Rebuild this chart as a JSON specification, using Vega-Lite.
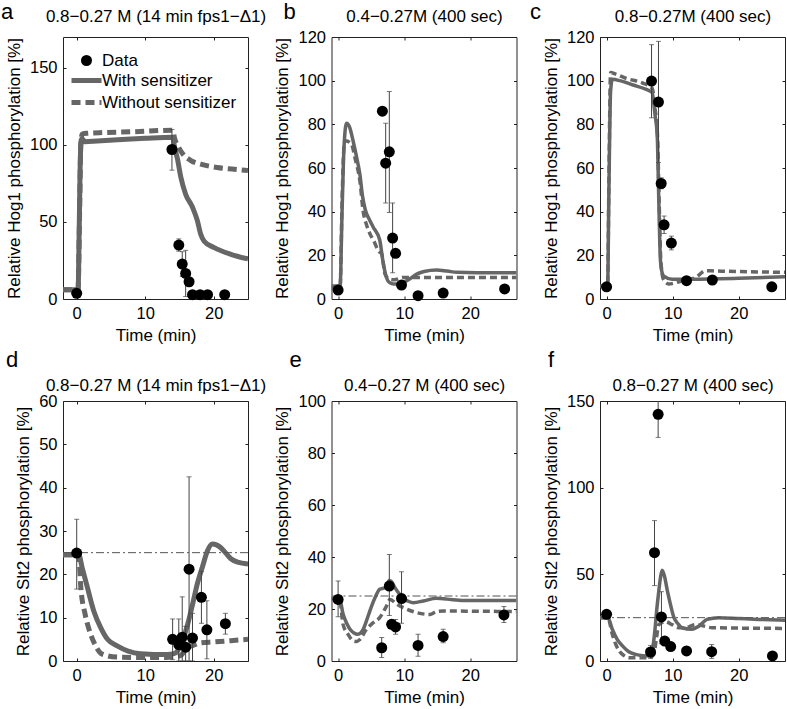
{
  "$schema": "https://vega.github.io/schema/vega-lite/v6.json",
  "padding": {"left": 0, "top": 0, "right": 0, "bottom": 0},
  "background": "white",
  "config": {
    "view": {"stroke": "#222", "strokeWidth": 1},
    "font": "Liberation Sans",
    "axis": {"domain": false, "grid": false, "tickSize": -3, "tickColor": "#222", "tickWidth": 1, "labelFont": "Liberation Sans", "labelFontSize": 16.5, "labelColor": "black", "labelPadding": 9, "labelFlush": false, "titleFont": "Liberation Sans", "titleFontSize": 17, "titleFontWeight": "normal", "titleColor": "black", "titlePadding": 6, "titleLimit": 500, "minExtent": 0},
    "title": {"font": "Liberation Sans", "fontSize": 22, "fontWeight": "normal", "color": "black", "frame": "group", "anchor": "start", "baseline": "alphabetic", "offset": 0}
  },
  "datasets": {
    "L": [
      {"p":"a","s":"With sensitizer","t":-2,"v":6},{"p":"a","s":"With sensitizer","t":0.2,"v":6},{"p":"a","s":"With sensitizer","t":0.35,"v":40},{"p":"a","s":"With sensitizer","t":0.5,"v":85},{"p":"a","s":"With sensitizer","t":0.65,"v":103},{"p":"a","s":"With sensitizer","t":0.8,"v":104},{"p":"a","s":"With sensitizer","t":1.2,"v":102},{"p":"a","s":"With sensitizer","t":3,"v":102.5},{"p":"a","s":"With sensitizer","t":6,"v":103.3},{"p":"a","s":"With sensitizer","t":10,"v":104.3},{"p":"a","s":"With sensitizer","t":14,"v":105},{"p":"a","s":"With sensitizer","t":14.3,"v":98},{"p":"a","s":"With sensitizer","t":14.7,"v":91},{"p":"a","s":"With sensitizer","t":15.2,"v":79},{"p":"a","s":"With sensitizer","t":15.9,"v":68},{"p":"a","s":"With sensitizer","t":16.9,"v":59.5},{"p":"a","s":"With sensitizer","t":17.6,"v":51},{"p":"a","s":"With sensitizer","t":18.1,"v":42},{"p":"a","s":"With sensitizer","t":18.6,"v":37.5},{"p":"a","s":"With sensitizer","t":20,"v":33.5},{"p":"a","s":"With sensitizer","t":22.5,"v":29},{"p":"a","s":"With sensitizer","t":25,"v":26},
      {"p":"a","s":"Without sensitizer","t":-2,"v":6},{"p":"a","s":"Without sensitizer","t":0.2,"v":6},{"p":"a","s":"Without sensitizer","t":0.4,"v":50},{"p":"a","s":"Without sensitizer","t":0.6,"v":100},{"p":"a","s":"Without sensitizer","t":0.8,"v":107},{"p":"a","s":"Without sensitizer","t":1.5,"v":107.5},{"p":"a","s":"Without sensitizer","t":4,"v":108},{"p":"a","s":"Without sensitizer","t":8,"v":108.5},{"p":"a","s":"Without sensitizer","t":14,"v":109.5},{"p":"a","s":"Without sensitizer","t":14.3,"v":104},{"p":"a","s":"Without sensitizer","t":14.8,"v":99},{"p":"a","s":"Without sensitizer","t":15.5,"v":94},{"p":"a","s":"Without sensitizer","t":16.6,"v":90},{"p":"a","s":"Without sensitizer","t":18.1,"v":87.5},{"p":"a","s":"Without sensitizer","t":20.5,"v":85.3},{"p":"a","s":"Without sensitizer","t":23,"v":84.2},{"p":"a","s":"Without sensitizer","t":25,"v":83.3},
      {"p":"b","s":"With sensitizer","t":-1,"v":6},{"p":"b","s":"With sensitizer","t":0.3,"v":6},{"p":"b","s":"With sensitizer","t":0.6,"v":40},{"p":"b","s":"With sensitizer","t":0.9,"v":70},{"p":"b","s":"With sensitizer","t":1.27,"v":80.5},{"p":"b","s":"With sensitizer","t":1.7,"v":79},{"p":"b","s":"With sensitizer","t":2.3,"v":72},{"p":"b","s":"With sensitizer","t":2.8,"v":65},{"p":"b","s":"With sensitizer","t":3.3,"v":57},{"p":"b","s":"With sensitizer","t":3.7,"v":47},{"p":"b","s":"With sensitizer","t":4.1,"v":41},{"p":"b","s":"With sensitizer","t":4.8,"v":36},{"p":"b","s":"With sensitizer","t":5.3,"v":33},{"p":"b","s":"With sensitizer","t":6.3,"v":27},{"p":"b","s":"With sensitizer","t":6.8,"v":17},{"p":"b","s":"With sensitizer","t":7.3,"v":10},{"p":"b","s":"With sensitizer","t":7.8,"v":7.5},{"p":"b","s":"With sensitizer","t":8.4,"v":6.9},{"p":"b","s":"With sensitizer","t":9.2,"v":7},{"p":"b","s":"With sensitizer","t":9.9,"v":7.6},{"p":"b","s":"With sensitizer","t":11,"v":9.5},{"p":"b","s":"With sensitizer","t":11.9,"v":11.4},{"p":"b","s":"With sensitizer","t":13,"v":12.6},{"p":"b","s":"With sensitizer","t":14.9,"v":13.3},{"p":"b","s":"With sensitizer","t":16.5,"v":12.8},{"p":"b","s":"With sensitizer","t":18,"v":12.2},{"p":"b","s":"With sensitizer","t":21,"v":12},{"p":"b","s":"With sensitizer","t":27,"v":12},
      {"p":"b","s":"Without sensitizer","t":-1,"v":5},{"p":"b","s":"Without sensitizer","t":0.3,"v":5},{"p":"b","s":"Without sensitizer","t":0.6,"v":45},{"p":"b","s":"Without sensitizer","t":0.9,"v":70},{"p":"b","s":"Without sensitizer","t":1.1,"v":72.5},{"p":"b","s":"Without sensitizer","t":2,"v":71},{"p":"b","s":"Without sensitizer","t":2.6,"v":64},{"p":"b","s":"Without sensitizer","t":3.3,"v":54},{"p":"b","s":"Without sensitizer","t":3.8,"v":40},{"p":"b","s":"Without sensitizer","t":4.3,"v":34},{"p":"b","s":"Without sensitizer","t":4.8,"v":30},{"p":"b","s":"Without sensitizer","t":5.5,"v":26},{"p":"b","s":"Without sensitizer","t":6.1,"v":22},{"p":"b","s":"Without sensitizer","t":6.6,"v":20.6},{"p":"b","s":"Without sensitizer","t":7.1,"v":11.4},{"p":"b","s":"Without sensitizer","t":7.8,"v":9.1},{"p":"b","s":"Without sensitizer","t":8.5,"v":8.8},{"p":"b","s":"Without sensitizer","t":9.9,"v":9.9},{"p":"b","s":"Without sensitizer","t":12,"v":9.8},{"p":"b","s":"Without sensitizer","t":27,"v":9.8},
      {"p":"c","s":"With sensitizer","t":-1,"v":6},{"p":"c","s":"With sensitizer","t":0.15,"v":6},{"p":"c","s":"With sensitizer","t":0.35,"v":50},{"p":"c","s":"With sensitizer","t":0.6,"v":95},{"p":"c","s":"With sensitizer","t":0.86,"v":100.6},{"p":"c","s":"With sensitizer","t":2,"v":100},{"p":"c","s":"With sensitizer","t":4,"v":98},{"p":"c","s":"With sensitizer","t":6,"v":96},{"p":"c","s":"With sensitizer","t":6.9,"v":94.5},{"p":"c","s":"With sensitizer","t":7.3,"v":85},{"p":"c","s":"With sensitizer","t":7.66,"v":75},{"p":"c","s":"With sensitizer","t":7.9,"v":45},{"p":"c","s":"With sensitizer","t":8.15,"v":17.5},{"p":"c","s":"With sensitizer","t":8.4,"v":12},{"p":"c","s":"With sensitizer","t":8.65,"v":10.5},{"p":"c","s":"With sensitizer","t":9.9,"v":9.1},{"p":"c","s":"With sensitizer","t":12.9,"v":9.1},{"p":"c","s":"With sensitizer","t":20,"v":9.5},{"p":"c","s":"With sensitizer","t":27,"v":10.2},
      {"p":"c","s":"Without sensitizer","t":-1,"v":6},{"p":"c","s":"Without sensitizer","t":0.15,"v":6},{"p":"c","s":"Without sensitizer","t":0.35,"v":55},{"p":"c","s":"Without sensitizer","t":0.6,"v":103.7},{"p":"c","s":"Without sensitizer","t":1.4,"v":103},{"p":"c","s":"Without sensitizer","t":3,"v":101},{"p":"c","s":"Without sensitizer","t":5.4,"v":99},{"p":"c","s":"Without sensitizer","t":6.9,"v":96.5},{"p":"c","s":"Without sensitizer","t":7.3,"v":88},{"p":"c","s":"Without sensitizer","t":7.7,"v":75},{"p":"c","s":"Without sensitizer","t":7.95,"v":45},{"p":"c","s":"Without sensitizer","t":8.2,"v":18},{"p":"c","s":"Without sensitizer","t":8.6,"v":9},{"p":"c","s":"Without sensitizer","t":9.4,"v":6.9},{"p":"c","s":"Without sensitizer","t":10.5,"v":7.5},{"p":"c","s":"Without sensitizer","t":11.5,"v":8.4},{"p":"c","s":"Without sensitizer","t":13.5,"v":9.9},{"p":"c","s":"Without sensitizer","t":15,"v":13},{"p":"c","s":"Without sensitizer","t":16.5,"v":12.8},{"p":"c","s":"Without sensitizer","t":18,"v":12.7},{"p":"c","s":"Without sensitizer","t":27,"v":12.2},
      {"p":"d","s":"With sensitizer","t":-2,"v":24.5},{"p":"d","s":"With sensitizer","t":0.3,"v":24.5},{"p":"d","s":"With sensitizer","t":0.8,"v":21.5},{"p":"d","s":"With sensitizer","t":1.56,"v":17},{"p":"d","s":"With sensitizer","t":2.5,"v":11.5},{"p":"d","s":"With sensitizer","t":3.5,"v":7.7},{"p":"d","s":"With sensitizer","t":4.5,"v":5},{"p":"d","s":"With sensitizer","t":5.9,"v":3.5},{"p":"d","s":"With sensitizer","t":7.5,"v":2.3},{"p":"d","s":"With sensitizer","t":9.3,"v":1.7},{"p":"d","s":"With sensitizer","t":13.2,"v":1.5},{"p":"d","s":"With sensitizer","t":14.2,"v":1.7},{"p":"d","s":"With sensitizer","t":14.7,"v":2.3},{"p":"d","s":"With sensitizer","t":15.5,"v":5},{"p":"d","s":"With sensitizer","t":16.2,"v":8.5},{"p":"d","s":"With sensitizer","t":16.9,"v":13},{"p":"d","s":"With sensitizer","t":17.6,"v":17.8},{"p":"d","s":"With sensitizer","t":18.4,"v":22},{"p":"d","s":"With sensitizer","t":19.1,"v":25.5},{"p":"d","s":"With sensitizer","t":19.8,"v":27},{"p":"d","s":"With sensitizer","t":20.4,"v":26.8},{"p":"d","s":"With sensitizer","t":21,"v":26.2},{"p":"d","s":"With sensitizer","t":21.7,"v":25},{"p":"d","s":"With sensitizer","t":22.5,"v":23.6},{"p":"d","s":"With sensitizer","t":23.5,"v":22.8},{"p":"d","s":"With sensitizer","t":25,"v":22.4},
      {"p":"d","s":"Without sensitizer","t":-2,"v":24.5},{"p":"d","s":"Without sensitizer","t":0.3,"v":24.5},{"p":"d","s":"Without sensitizer","t":0.6,"v":17},{"p":"d","s":"Without sensitizer","t":1.2,"v":11},{"p":"d","s":"Without sensitizer","t":1.8,"v":7.3},{"p":"d","s":"Without sensitizer","t":2.6,"v":4},{"p":"d","s":"Without sensitizer","t":3.5,"v":1.8},{"p":"d","s":"Without sensitizer","t":4.5,"v":1.2},{"p":"d","s":"Without sensitizer","t":5.9,"v":0.9},{"p":"d","s":"Without sensitizer","t":9,"v":0.8},{"p":"d","s":"Without sensitizer","t":13,"v":0.8},{"p":"d","s":"Without sensitizer","t":14.5,"v":1},{"p":"d","s":"Without sensitizer","t":15.2,"v":1.3},{"p":"d","s":"Without sensitizer","t":15.7,"v":2.2},{"p":"d","s":"Without sensitizer","t":16.2,"v":3.1},{"p":"d","s":"Without sensitizer","t":17,"v":3.6},{"p":"d","s":"Without sensitizer","t":18.1,"v":4.2},{"p":"d","s":"Without sensitizer","t":20,"v":4.4},{"p":"d","s":"Without sensitizer","t":22.5,"v":4.7},{"p":"d","s":"Without sensitizer","t":25,"v":5},
      {"p":"e","s":"With sensitizer","t":-1,"v":24},{"p":"e","s":"With sensitizer","t":0.2,"v":24},{"p":"e","s":"With sensitizer","t":0.76,"v":18},{"p":"e","s":"With sensitizer","t":1.3,"v":14.5},{"p":"e","s":"With sensitizer","t":1.8,"v":12.2},{"p":"e","s":"With sensitizer","t":2.4,"v":10.8},{"p":"e","s":"With sensitizer","t":3,"v":10.3},{"p":"e","s":"With sensitizer","t":3.4,"v":10.8},{"p":"e","s":"With sensitizer","t":3.8,"v":12.2},{"p":"e","s":"With sensitizer","t":4.3,"v":15.5},{"p":"e","s":"With sensitizer","t":4.8,"v":19.2},{"p":"e","s":"With sensitizer","t":5.6,"v":24.4},{"p":"e","s":"With sensitizer","t":6.3,"v":27.6},{"p":"e","s":"With sensitizer","t":7.1,"v":28.2},{"p":"e","s":"With sensitizer","t":7.75,"v":31},{"p":"e","s":"With sensitizer","t":8.1,"v":30.5},{"p":"e","s":"With sensitizer","t":8.6,"v":28.2},{"p":"e","s":"With sensitizer","t":9.2,"v":26},{"p":"e","s":"With sensitizer","t":9.9,"v":24},{"p":"e","s":"With sensitizer","t":10.6,"v":23},{"p":"e","s":"With sensitizer","t":11.4,"v":22.4},{"p":"e","s":"With sensitizer","t":12.9,"v":23.1},{"p":"e","s":"With sensitizer","t":14.9,"v":24.1},{"p":"e","s":"With sensitizer","t":16.5,"v":23.8},{"p":"e","s":"With sensitizer","t":19,"v":23.3},{"p":"e","s":"With sensitizer","t":27,"v":23.3},
      {"p":"e","s":"Without sensitizer","t":-1,"v":24},{"p":"e","s":"Without sensitizer","t":0.2,"v":24},{"p":"e","s":"Without sensitizer","t":0.76,"v":14},{"p":"e","s":"Without sensitizer","t":1.5,"v":10.3},{"p":"e","s":"Without sensitizer","t":2.3,"v":7.7},{"p":"e","s":"Without sensitizer","t":2.8,"v":7.5},{"p":"e","s":"Without sensitizer","t":3.3,"v":8.3},{"p":"e","s":"Without sensitizer","t":4.3,"v":12.2},{"p":"e","s":"Without sensitizer","t":5.3,"v":14.7},{"p":"e","s":"Without sensitizer","t":6.3,"v":16.7},{"p":"e","s":"Without sensitizer","t":7.3,"v":21},{"p":"e","s":"Without sensitizer","t":7.85,"v":23.7},{"p":"e","s":"Without sensitizer","t":8.9,"v":21.8},{"p":"e","s":"Without sensitizer","t":9.9,"v":20.5},{"p":"e","s":"Without sensitizer","t":11.9,"v":18.6},{"p":"e","s":"Without sensitizer","t":13.9,"v":17.9},{"p":"e","s":"Without sensitizer","t":14.9,"v":19},{"p":"e","s":"Without sensitizer","t":16,"v":19.2},{"p":"e","s":"Without sensitizer","t":27,"v":19},
      {"p":"f","s":"With sensitizer","t":-1,"v":25},{"p":"f","s":"With sensitizer","t":0.2,"v":25},{"p":"f","s":"With sensitizer","t":0.86,"v":18.3},{"p":"f","s":"With sensitizer","t":1.6,"v":12.5},{"p":"f","s":"With sensitizer","t":2.4,"v":8.7},{"p":"f","s":"With sensitizer","t":3.3,"v":5.5},{"p":"f","s":"With sensitizer","t":4.4,"v":3.8},{"p":"f","s":"With sensitizer","t":5.5,"v":3.1},{"p":"f","s":"With sensitizer","t":6.65,"v":2.9},{"p":"f","s":"With sensitizer","t":7,"v":8},{"p":"f","s":"With sensitizer","t":7.3,"v":17.3},{"p":"f","s":"With sensitizer","t":7.6,"v":30},{"p":"f","s":"With sensitizer","t":7.9,"v":40.4},{"p":"f","s":"With sensitizer","t":8.15,"v":48},{"p":"f","s":"With sensitizer","t":8.4,"v":52.3},{"p":"f","s":"With sensitizer","t":8.75,"v":49},{"p":"f","s":"With sensitizer","t":9.2,"v":40.4},{"p":"f","s":"With sensitizer","t":9.7,"v":32},{"p":"f","s":"With sensitizer","t":10.2,"v":25},{"p":"f","s":"With sensitizer","t":10.8,"v":21.5},{"p":"f","s":"With sensitizer","t":11.4,"v":19.2},{"p":"f","s":"With sensitizer","t":12.9,"v":18.3},{"p":"f","s":"With sensitizer","t":14,"v":20.2},{"p":"f","s":"With sensitizer","t":15.2,"v":24},{"p":"f","s":"With sensitizer","t":17,"v":25},{"p":"f","s":"With sensitizer","t":20,"v":24.5},{"p":"f","s":"With sensitizer","t":23,"v":24},{"p":"f","s":"With sensitizer","t":27,"v":23.5},
      {"p":"f","s":"Without sensitizer","t":-1,"v":25},{"p":"f","s":"Without sensitizer","t":0.2,"v":25},{"p":"f","s":"Without sensitizer","t":0.86,"v":15.4},{"p":"f","s":"Without sensitizer","t":1.4,"v":9.5},{"p":"f","s":"Without sensitizer","t":1.9,"v":5.8},{"p":"f","s":"Without sensitizer","t":2.6,"v":3.2},{"p":"f","s":"Without sensitizer","t":3.4,"v":1.9},{"p":"f","s":"Without sensitizer","t":6.4,"v":1.9},{"p":"f","s":"Without sensitizer","t":7.15,"v":3.8},{"p":"f","s":"Without sensitizer","t":7.5,"v":12},{"p":"f","s":"Without sensitizer","t":7.9,"v":21},{"p":"f","s":"Without sensitizer","t":8.9,"v":22.7},{"p":"f","s":"Without sensitizer","t":9.9,"v":21},{"p":"f","s":"Without sensitizer","t":10.9,"v":19.2},{"p":"f","s":"Without sensitizer","t":11.9,"v":19.2},{"p":"f","s":"Without sensitizer","t":13.5,"v":21},{"p":"f","s":"Without sensitizer","t":16,"v":19.2},{"p":"f","s":"Without sensitizer","t":27,"v":18.8}
    ],
    "P": [
      {"p":"a","t":0,"v":3.7},{"p":"a","t":13.9,"v":97,"lo":83.6,"hi":110},{"p":"a","t":14.9,"v":35,"lo":31,"hi":39},{"p":"a","t":15.4,"v":22.7,"lo":14.7,"hi":30.7},{"p":"a","t":15.9,"v":16.6,"lo":1.6,"hi":31.6},{"p":"a","t":16.4,"v":11.2},{"p":"a","t":16.9,"v":2.8},{"p":"a","t":18,"v":2.8},{"p":"a","t":19.1,"v":2.8},{"p":"a","t":21.6,"v":2.8},
      {"p":"b","t":0,"v":4.1},{"p":"b","t":6.7,"v":86},{"p":"b","t":7.2,"v":62.2,"lo":44,"hi":80.5},{"p":"b","t":7.75,"v":67.4,"lo":39.6,"hi":95},{"p":"b","t":8.25,"v":27.9,"lo":12,"hi":44},{"p":"b","t":8.7,"v":20.9},{"p":"b","t":9.6,"v":6.4},{"p":"b","t":12.1,"v":1.5},{"p":"b","t":15.9,"v":2.7},{"p":"b","t":25.2,"v":4.6},
      {"p":"c","t":0,"v":5.6},{"p":"c","t":6.8,"v":99.8,"lo":83,"hi":116.5},{"p":"c","t":7.85,"v":90.2,"lo":62.5,"hi":118},{"p":"c","t":8.26,"v":52.9,"lo":50.5,"hi":55.5},{"p":"c","t":8.7,"v":34,"lo":30,"hi":38},{"p":"c","t":9.8,"v":25.6,"lo":22.5,"hi":28.8},{"p":"c","t":12.1,"v":8.4},{"p":"c","t":16,"v":8.7},{"p":"c","t":25,"v":5.6},
      {"p":"d","t":0,"v":24.9,"lo":16.6,"hi":32.7},{"p":"d","t":14,"v":5,"lo":0.3,"hi":9.7},{"p":"d","t":14.9,"v":3.8,"lo":0,"hi":9.7},{"p":"d","t":15.4,"v":5.5,"lo":0,"hi":14.8},{"p":"d","t":15.9,"v":3.2,"lo":0,"hi":8},{"p":"d","t":16.4,"v":21.2,"lo":0,"hi":42.5},{"p":"d","t":16.9,"v":5.3,"lo":0,"hi":11},{"p":"d","t":18.2,"v":14.7,"lo":8.7,"hi":20.7},{"p":"d","t":19,"v":7.2,"lo":0.5,"hi":13.9},{"p":"d","t":21.7,"v":8.6,"lo":6.2,"hi":11},
      {"p":"e","t":0,"v":23.7,"lo":17,"hi":30.8},{"p":"e","t":6.6,"v":5.1,"lo":1.3,"hi":9},{"p":"e","t":7.75,"v":28.8,"lo":17.5,"hi":41},{"p":"e","t":8.1,"v":14.1},{"p":"e","t":8.7,"v":13.1,"lo":10.3,"hi":16},{"p":"e","t":9.6,"v":24,"lo":14.5,"hi":34.3},{"p":"e","t":12.1,"v":6,"lo":1.8,"hi":10.3},{"p":"e","t":15.9,"v":9.4,"lo":7,"hi":12.2},{"p":"e","t":25.1,"v":17.7,"lo":14.8,"hi":21},
      {"p":"f","t":0,"v":26.9},{"p":"f","t":6.65,"v":5.2,"lo":1.5,"hi":9},{"p":"f","t":7.25,"v":62.5,"lo":43.5,"hi":81},{"p":"f","t":7.8,"v":142.3,"lo":129,"hi":155},{"p":"f","t":8.3,"v":25.4,"lo":10,"hi":40},{"p":"f","t":8.8,"v":11.5},{"p":"f","t":9.7,"v":8.3},{"p":"f","t":12.1,"v":5.8},{"p":"f","t":15.9,"v":5.4,"lo":1.5,"hi":9.5},{"p":"f","t":25.1,"v":2.9}
    ],
    "R": [{"p":"d","v":25},{"p":"e","v":25},{"p":"f","v":25}]
  },
  "columns": 3,
  "bounds": "flush",
  "spacing": {"row": 102, "column": 83.5},
  "resolve": {"scale": {"color": "independent"}, "legend": {"color": "independent"}},
  "concat": [
    {
      "width": 185, "height": 262,
      "title": {"text": "a", "dx": -62, "dy": 20},
      "resolve": {"axis": {"x": "independent", "y": "independent"}},
      "layer": [
        {"data": {"name": "L"}, "transform": [{"filter": "datum.p=='a' && datum.s=='With sensitizer'"}],
         "mark": {"type": "line", "strokeWidth": 5, "clip": true, "interpolate": "monotone"},
         "encoding": {
           "x": {"field": "t", "type": "quantitative", "scale": {"domain": [-2, 25], "nice": false, "zero": false}, "axis": {"orient": "bottom", "values": [0, 10, 20], "title": "Time (min)"}},
           "y": {"field": "v", "type": "quantitative", "scale": {"domain": [0, 170], "nice": false, "zero": false}, "axis": {"orient": "left", "values": [0, 50, 100, 150], "title": "Relative Hog1 phosphorylation [%]"}},
           "color": {"field": "s", "type": "nominal", "scale": {"domain": ["Data", "With sensitizer", "Without sensitizer"], "range": ["black", "#666666", "#666666"]},
             "legend": {"orient": "none", "legendX": 15, "legendY": 15, "title": null, "symbolSize": 900, "symbolStrokeWidth": 5, "labelFont": "Liberation Sans", "labelFontSize": 17, "labelColor": "black", "labelOffset": 7, "rowPadding": 1, "padding": 0,
               "encode": {"symbols": {"update": {
                 "shape": {"signal": "datum.value === 'Data' ? 'circle' : 'stroke'"},
                 "size": {"signal": "datum.value === 'Data' ? 121 : 900"},
                 "fill": {"signal": "datum.value === 'Data' ? 'black' : 'transparent'"},
                 "stroke": {"signal": "datum.value === 'Data' ? 'black' : '#666666'"},
                 "strokeWidth": {"signal": "datum.value === 'Data' ? 0 : 5"},
                 "strokeDash": {"signal": "datum.value === 'Without sensitizer' ? [9,5] : [1,0]"},
                 "opacity": {"value": 1}
               }}}}}
         }},
        {"data": {"name": "L"}, "transform": [{"filter": "datum.p=='a' && datum.s=='Without sensitizer'"}],
         "mark": {"type": "line", "strokeWidth": 5, "strokeDash": [9, 5], "clip": true, "interpolate": "monotone"},
         "encoding": {"x": {"field": "t", "type": "quantitative", "axis": null}, "y": {"field": "v", "type": "quantitative", "axis": null}, "color": {"field": "s", "type": "nominal"}}},
        {"data": {"name": "P"}, "transform": [{"filter": "datum.p=='a' && isValid(datum.lo)"}],
         "mark": {"type": "rule", "color": "#444", "strokeWidth": 1, "clip": true},
         "encoding": {"x": {"field": "t", "type": "quantitative", "axis": null}, "y": {"field": "lo", "type": "quantitative", "axis": null}, "y2": {"field": "hi"}}},
        {"data": {"name": "P"}, "transform": [{"filter": "datum.p=='a' && isValid(datum.lo)"}],
         "mark": {"type": "tick", "orient": "horizontal", "color": "#444", "size": 5, "thickness": 1, "clip": true},
         "encoding": {"x": {"field": "t", "type": "quantitative", "axis": null}, "y": {"field": "lo", "type": "quantitative", "axis": null}}},
        {"data": {"name": "P"}, "transform": [{"filter": "datum.p=='a' && isValid(datum.hi)"}],
         "mark": {"type": "tick", "orient": "horizontal", "color": "#444", "size": 5, "thickness": 1, "clip": true},
         "encoding": {"x": {"field": "t", "type": "quantitative", "axis": null}, "y": {"field": "hi", "type": "quantitative", "axis": null}}},
        {"data": {"name": "P"}, "transform": [{"filter": "datum.p=='a'"}],
         "mark": {"type": "point", "shape": "circle", "filled": true, "size": 121, "opacity": 1},
         "encoding": {"x": {"field": "t", "type": "quantitative", "axis": {"orient": "top", "values": [0, 10, 20], "labels": false, "title": "0.8−0.27 M (14 min fps1−Δ1)", "titlePadding": 15, "titleBaseline": "alphabetic"}},
           "y": {"field": "v", "type": "quantitative", "axis": {"orient": "right", "values": [0, 50, 100, 150], "labels": false, "title": null}},
           "color": {"datum": "Data", "type": "nominal"}}}
      ]
    },
    {
      "width": 185, "height": 262,
      "title": {"text": "b", "dx": -48, "dy": 20},
      "resolve": {"axis": {"x": "independent", "y": "independent"}},
      "layer": [
        {"data": {"name": "L"}, "transform": [{"filter": "datum.p=='b' && datum.s=='With sensitizer'"}],
         "mark": {"type": "line", "color": "#666666", "strokeWidth": 3.5, "clip": true, "interpolate": "monotone"},
         "encoding": {
           "x": {"field": "t", "type": "quantitative", "scale": {"domain": [-1, 27], "nice": false, "zero": false}, "axis": {"orient": "bottom", "values": [0, 10, 20], "title": "Time (min)"}},
           "y": {"field": "v", "type": "quantitative", "scale": {"domain": [0, 120], "nice": false, "zero": false}, "axis": {"orient": "left", "values": [0, 20, 40, 60, 80, 100, 120], "title": "Relative Hog1 phosphorylation [%]"}}}},
        {"data": {"name": "L"}, "transform": [{"filter": "datum.p=='b' && datum.s=='Without sensitizer'"}],
         "mark": {"type": "line", "color": "#666666", "strokeWidth": 3.5, "strokeDash": [7, 4], "clip": true, "interpolate": "monotone"},
         "encoding": {"x": {"field": "t", "type": "quantitative", "axis": null}, "y": {"field": "v", "type": "quantitative", "axis": null}}},
        {"data": {"name": "P"}, "transform": [{"filter": "datum.p=='b' && isValid(datum.lo)"}],
         "mark": {"type": "rule", "color": "#444", "strokeWidth": 1, "clip": true},
         "encoding": {"x": {"field": "t", "type": "quantitative", "axis": null}, "y": {"field": "lo", "type": "quantitative", "axis": null}, "y2": {"field": "hi"}}},
        {"data": {"name": "P"}, "transform": [{"filter": "datum.p=='b' && isValid(datum.lo)"}],
         "mark": {"type": "tick", "orient": "horizontal", "color": "#444", "size": 5, "thickness": 1, "clip": true},
         "encoding": {"x": {"field": "t", "type": "quantitative", "axis": null}, "y": {"field": "lo", "type": "quantitative", "axis": null}}},
        {"data": {"name": "P"}, "transform": [{"filter": "datum.p=='b' && isValid(datum.hi)"}],
         "mark": {"type": "tick", "orient": "horizontal", "color": "#444", "size": 5, "thickness": 1, "clip": true},
         "encoding": {"x": {"field": "t", "type": "quantitative", "axis": null}, "y": {"field": "hi", "type": "quantitative", "axis": null}}},
        {"data": {"name": "P"}, "transform": [{"filter": "datum.p=='b'"}],
         "mark": {"type": "point", "shape": "circle", "filled": true, "size": 121, "color": "black", "opacity": 1},
         "encoding": {"x": {"field": "t", "type": "quantitative", "axis": {"orient": "top", "values": [0, 10, 20], "labels": false, "title": "0.4−0.27M (400 sec)", "titlePadding": 15, "titleBaseline": "alphabetic"}},
           "y": {"field": "v", "type": "quantitative", "axis": {"orient": "right", "values": [0, 20, 40, 60, 80, 100, 120], "labels": false, "title": null}}}}
      ]
    },
    {
      "width": 185, "height": 262,
      "title": {"text": "c", "dx": -70, "dy": 20},
      "resolve": {"axis": {"x": "independent", "y": "independent"}},
      "layer": [
        {"data": {"name": "L"}, "transform": [{"filter": "datum.p=='c' && datum.s=='With sensitizer'"}],
         "mark": {"type": "line", "color": "#666666", "strokeWidth": 3.5, "clip": true, "interpolate": "monotone"},
         "encoding": {
           "x": {"field": "t", "type": "quantitative", "scale": {"domain": [-1, 27], "nice": false, "zero": false}, "axis": {"orient": "bottom", "values": [0, 10, 20], "title": "Time (min)"}},
           "y": {"field": "v", "type": "quantitative", "scale": {"domain": [0, 120], "nice": false, "zero": false}, "axis": {"orient": "left", "values": [0, 20, 40, 60, 80, 100, 120], "title": "Relative Hog1 phosphorylation [%]"}}}},
        {"data": {"name": "L"}, "transform": [{"filter": "datum.p=='c' && datum.s=='Without sensitizer'"}],
         "mark": {"type": "line", "color": "#666666", "strokeWidth": 3.5, "strokeDash": [7, 4], "clip": true, "interpolate": "monotone"},
         "encoding": {"x": {"field": "t", "type": "quantitative", "axis": null}, "y": {"field": "v", "type": "quantitative", "axis": null}}},
        {"data": {"name": "P"}, "transform": [{"filter": "datum.p=='c' && isValid(datum.lo)"}],
         "mark": {"type": "rule", "color": "#444", "strokeWidth": 1, "clip": true},
         "encoding": {"x": {"field": "t", "type": "quantitative", "axis": null}, "y": {"field": "lo", "type": "quantitative", "axis": null}, "y2": {"field": "hi"}}},
        {"data": {"name": "P"}, "transform": [{"filter": "datum.p=='c' && isValid(datum.lo)"}],
         "mark": {"type": "tick", "orient": "horizontal", "color": "#444", "size": 5, "thickness": 1, "clip": true},
         "encoding": {"x": {"field": "t", "type": "quantitative", "axis": null}, "y": {"field": "lo", "type": "quantitative", "axis": null}}},
        {"data": {"name": "P"}, "transform": [{"filter": "datum.p=='c' && isValid(datum.hi)"}],
         "mark": {"type": "tick", "orient": "horizontal", "color": "#444", "size": 5, "thickness": 1, "clip": true},
         "encoding": {"x": {"field": "t", "type": "quantitative", "axis": null}, "y": {"field": "hi", "type": "quantitative", "axis": null}}},
        {"data": {"name": "P"}, "transform": [{"filter": "datum.p=='c'"}],
         "mark": {"type": "point", "shape": "circle", "filled": true, "size": 121, "color": "black", "opacity": 1},
         "encoding": {"x": {"field": "t", "type": "quantitative", "axis": {"orient": "top", "values": [0, 10, 20], "labels": false, "title": "0.8−0.27M (400 sec)", "titlePadding": 15, "titleBaseline": "alphabetic"}},
           "y": {"field": "v", "type": "quantitative", "axis": {"orient": "right", "values": [0, 20, 40, 60, 80, 100, 120], "labels": false, "title": null}}}}
      ]
    },
    {
      "width": 185, "height": 260,
      "title": {"text": "d", "dx": -57, "dy": 0},
      "resolve": {"axis": {"x": "independent", "y": "independent"}},
      "layer": [
        {"data": {"name": "L"}, "transform": [{"filter": "datum.p=='d' && datum.s=='With sensitizer'"}],
         "mark": {"type": "line", "color": "#666666", "strokeWidth": 5, "clip": true, "interpolate": "monotone"},
         "encoding": {
           "x": {"field": "t", "type": "quantitative", "scale": {"domain": [-2, 25], "nice": false, "zero": false}, "axis": {"orient": "bottom", "values": [0, 10, 20], "title": "Time (min)"}},
           "y": {"field": "v", "type": "quantitative", "scale": {"domain": [0, 60], "nice": false, "zero": false}, "axis": {"orient": "left", "values": [0, 10, 20, 30, 40, 50, 60], "title": "Relative Slt2 phosphorylation [%]"}}}},
        {"data": {"name": "L"}, "transform": [{"filter": "datum.p=='d' && datum.s=='Without sensitizer'"}],
         "mark": {"type": "line", "color": "#666666", "strokeWidth": 5, "strokeDash": [9, 5], "clip": true, "interpolate": "monotone"},
         "encoding": {"x": {"field": "t", "type": "quantitative", "axis": null}, "y": {"field": "v", "type": "quantitative", "axis": null}}},
        {"data": {"name": "R"}, "transform": [{"filter": "datum.p=='d'"}],
         "mark": {"type": "rule", "color": "#555", "strokeWidth": 1, "strokeDash": [8, 3, 2, 3]},
         "encoding": {"y": {"field": "v", "type": "quantitative", "axis": null}}},
        {"data": {"name": "P"}, "transform": [{"filter": "datum.p=='d' && isValid(datum.lo)"}],
         "mark": {"type": "rule", "color": "#444", "strokeWidth": 1, "clip": true},
         "encoding": {"x": {"field": "t", "type": "quantitative", "axis": null}, "y": {"field": "lo", "type": "quantitative", "axis": null}, "y2": {"field": "hi"}}},
        {"data": {"name": "P"}, "transform": [{"filter": "datum.p=='d' && isValid(datum.lo)"}],
         "mark": {"type": "tick", "orient": "horizontal", "color": "#444", "size": 5, "thickness": 1, "clip": true},
         "encoding": {"x": {"field": "t", "type": "quantitative", "axis": null}, "y": {"field": "lo", "type": "quantitative", "axis": null}}},
        {"data": {"name": "P"}, "transform": [{"filter": "datum.p=='d' && isValid(datum.hi)"}],
         "mark": {"type": "tick", "orient": "horizontal", "color": "#444", "size": 5, "thickness": 1, "clip": true},
         "encoding": {"x": {"field": "t", "type": "quantitative", "axis": null}, "y": {"field": "hi", "type": "quantitative", "axis": null}}},
        {"data": {"name": "P"}, "transform": [{"filter": "datum.p=='d'"}],
         "mark": {"type": "point", "shape": "circle", "filled": true, "size": 121, "color": "black", "opacity": 1},
         "encoding": {"x": {"field": "t", "type": "quantitative", "axis": {"orient": "top", "values": [0, 10, 20], "labels": false, "title": "0.8−0.27 M (14 min fps1−Δ1)", "titlePadding": 10.5, "titleBaseline": "alphabetic"}},
           "y": {"field": "v", "type": "quantitative", "axis": {"orient": "right", "values": [0, 10, 20, 30, 40, 50, 60], "labels": false, "title": null}}}}
      ]
    },
    {
      "width": 185, "height": 260,
      "title": {"text": "e", "dx": -42, "dy": 0},
      "resolve": {"axis": {"x": "independent", "y": "independent"}},
      "layer": [
        {"data": {"name": "L"}, "transform": [{"filter": "datum.p=='e' && datum.s=='With sensitizer'"}],
         "mark": {"type": "line", "color": "#666666", "strokeWidth": 3.5, "clip": true, "interpolate": "monotone"},
         "encoding": {
           "x": {"field": "t", "type": "quantitative", "scale": {"domain": [-1, 27], "nice": false, "zero": false}, "axis": {"orient": "bottom", "values": [0, 10, 20], "title": "Time (min)"}},
           "y": {"field": "v", "type": "quantitative", "scale": {"domain": [0, 100], "nice": false, "zero": false}, "axis": {"orient": "left", "values": [0, 20, 40, 60, 80, 100], "title": "Relative Slt2 phosphorylation [%]"}}}},
        {"data": {"name": "L"}, "transform": [{"filter": "datum.p=='e' && datum.s=='Without sensitizer'"}],
         "mark": {"type": "line", "color": "#666666", "strokeWidth": 3.5, "strokeDash": [7, 4], "clip": true, "interpolate": "monotone"},
         "encoding": {"x": {"field": "t", "type": "quantitative", "axis": null}, "y": {"field": "v", "type": "quantitative", "axis": null}}},
        {"data": {"name": "R"}, "transform": [{"filter": "datum.p=='e'"}],
         "mark": {"type": "rule", "color": "#555", "strokeWidth": 1, "strokeDash": [8, 3, 2, 3]},
         "encoding": {"y": {"field": "v", "type": "quantitative", "axis": null}}},
        {"data": {"name": "P"}, "transform": [{"filter": "datum.p=='e' && isValid(datum.lo)"}],
         "mark": {"type": "rule", "color": "#444", "strokeWidth": 1, "clip": true},
         "encoding": {"x": {"field": "t", "type": "quantitative", "axis": null}, "y": {"field": "lo", "type": "quantitative", "axis": null}, "y2": {"field": "hi"}}},
        {"data": {"name": "P"}, "transform": [{"filter": "datum.p=='e' && isValid(datum.lo)"}],
         "mark": {"type": "tick", "orient": "horizontal", "color": "#444", "size": 5, "thickness": 1, "clip": true},
         "encoding": {"x": {"field": "t", "type": "quantitative", "axis": null}, "y": {"field": "lo", "type": "quantitative", "axis": null}}},
        {"data": {"name": "P"}, "transform": [{"filter": "datum.p=='e' && isValid(datum.hi)"}],
         "mark": {"type": "tick", "orient": "horizontal", "color": "#444", "size": 5, "thickness": 1, "clip": true},
         "encoding": {"x": {"field": "t", "type": "quantitative", "axis": null}, "y": {"field": "hi", "type": "quantitative", "axis": null}}},
        {"data": {"name": "P"}, "transform": [{"filter": "datum.p=='e'"}],
         "mark": {"type": "point", "shape": "circle", "filled": true, "size": 121, "color": "black", "opacity": 1},
         "encoding": {"x": {"field": "t", "type": "quantitative", "axis": {"orient": "top", "values": [0, 10, 20], "labels": false, "title": "0.4−0.27 M (400 sec)", "titlePadding": 10.5, "titleBaseline": "alphabetic"}},
           "y": {"field": "v", "type": "quantitative", "axis": {"orient": "right", "values": [0, 20, 40, 60, 80, 100], "labels": false, "title": null}}}}
      ]
    },
    {
      "width": 185, "height": 260,
      "title": {"text": "f", "dx": -52, "dy": 0},
      "resolve": {"axis": {"x": "independent", "y": "independent"}},
      "layer": [
        {"data": {"name": "L"}, "transform": [{"filter": "datum.p=='f' && datum.s=='With sensitizer'"}],
         "mark": {"type": "line", "color": "#666666", "strokeWidth": 3.5, "clip": true, "interpolate": "monotone"},
         "encoding": {
           "x": {"field": "t", "type": "quantitative", "scale": {"domain": [-1, 27], "nice": false, "zero": false}, "axis": {"orient": "bottom", "values": [0, 10, 20], "title": "Time (min)"}},
           "y": {"field": "v", "type": "quantitative", "scale": {"domain": [0, 150], "nice": false, "zero": false}, "axis": {"orient": "left", "values": [0, 50, 100, 150], "title": "Relative Slt2 phosphorylation [%]"}}}},
        {"data": {"name": "L"}, "transform": [{"filter": "datum.p=='f' && datum.s=='Without sensitizer'"}],
         "mark": {"type": "line", "color": "#666666", "strokeWidth": 3.5, "strokeDash": [7, 4], "clip": true, "interpolate": "monotone"},
         "encoding": {"x": {"field": "t", "type": "quantitative", "axis": null}, "y": {"field": "v", "type": "quantitative", "axis": null}}},
        {"data": {"name": "R"}, "transform": [{"filter": "datum.p=='f'"}],
         "mark": {"type": "rule", "color": "#555", "strokeWidth": 1, "strokeDash": [8, 3, 2, 3]},
         "encoding": {"y": {"field": "v", "type": "quantitative", "axis": null}}},
        {"data": {"name": "P"}, "transform": [{"filter": "datum.p=='f' && isValid(datum.lo)"}],
         "mark": {"type": "rule", "color": "#444", "strokeWidth": 1, "clip": true},
         "encoding": {"x": {"field": "t", "type": "quantitative", "axis": null}, "y": {"field": "lo", "type": "quantitative", "axis": null}, "y2": {"field": "hi"}}},
        {"data": {"name": "P"}, "transform": [{"filter": "datum.p=='f' && isValid(datum.lo)"}],
         "mark": {"type": "tick", "orient": "horizontal", "color": "#444", "size": 5, "thickness": 1, "clip": true},
         "encoding": {"x": {"field": "t", "type": "quantitative", "axis": null}, "y": {"field": "lo", "type": "quantitative", "axis": null}}},
        {"data": {"name": "P"}, "transform": [{"filter": "datum.p=='f' && isValid(datum.hi)"}],
         "mark": {"type": "tick", "orient": "horizontal", "color": "#444", "size": 5, "thickness": 1, "clip": true},
         "encoding": {"x": {"field": "t", "type": "quantitative", "axis": null}, "y": {"field": "hi", "type": "quantitative", "axis": null}}},
        {"data": {"name": "P"}, "transform": [{"filter": "datum.p=='f'"}],
         "mark": {"type": "point", "shape": "circle", "filled": true, "size": 121, "color": "black", "opacity": 1},
         "encoding": {"x": {"field": "t", "type": "quantitative", "axis": {"orient": "top", "values": [0, 10, 20], "labels": false, "title": "0.8−0.27 M (400 sec)", "titlePadding": 10.5, "titleBaseline": "alphabetic"}},
           "y": {"field": "v", "type": "quantitative", "axis": {"orient": "right", "values": [0, 50, 100, 150], "labels": false, "title": null}}}}
      ]
    }
  ]
}
